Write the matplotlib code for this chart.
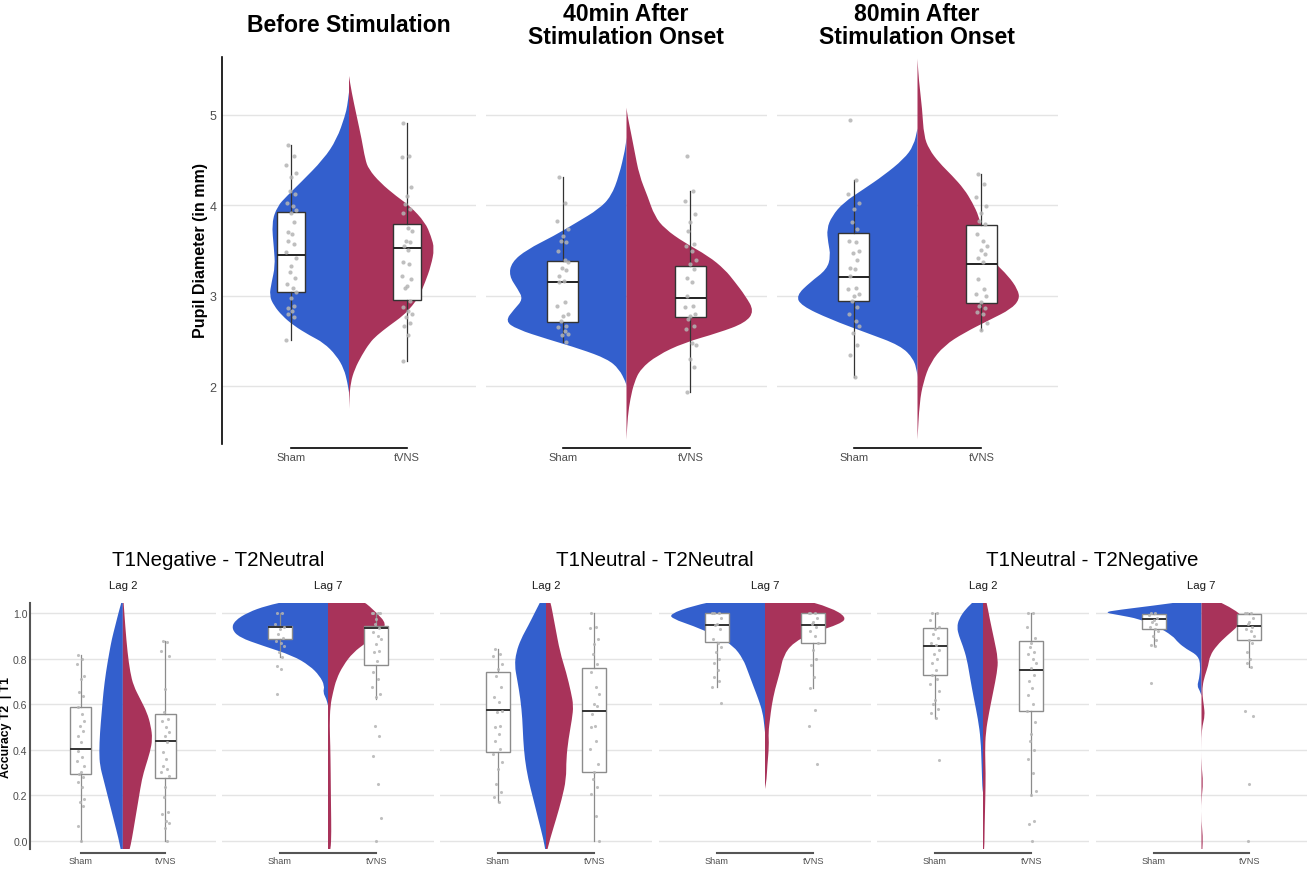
import matplotlib
matplotlib.use("Agg")
import matplotlib.pyplot as plt
from matplotlib import font_manager
from matplotlib.path import Path
from matplotlib.patches import PathPatch

# ---------------------------------------------------------------- data
groups = ["Sham", "tVNS"]

top_titles = ["Before Stimulation", "40min After\nStimulation Onset", "80min After\nStimulation Onset"]
top_ylabel = "Pupil Diameter (in mm)"
top_yticks = [2, 3, 4, 5]

bottom_titles = ["T1Negative - T2Neutral", "T1Neutral - T2Neutral", "T1Neutral - T2Negative"]
lag_labels = ["Lag 2", "Lag 7"]
bottom_ylabel = "Accuracy T2  | T1"
bottom_yticks = [0.0, 0.2, 0.4, 0.6, 0.8, 1.0]

# violin half profiles: (value, half width)
before_sham_violin = [(5.25, 0.0), (5.10, 0.015), (4.99, 0.034), (4.73, 0.106), (4.51, 0.22), (4.25, 0.42),
                      (4.10, 0.54), (3.99, 0.62), (3.81, 0.67), (3.52, 0.65), (3.33, 0.64), (3.15, 0.67),
                      (3.00, 0.69), (2.89, 0.65), (2.78, 0.58), (2.67, 0.48), (2.56, 0.34), (2.48, 0.22),
                      (2.34, 0.11), (2.19, 0.043), (2.04, 0.014), (1.93, 0.0)]
before_tvns_violin = [(5.43, 0.0), (5.25, 0.023), (4.99, 0.066), (4.73, 0.11), (4.51, 0.14), (4.40, 0.17),
                      (4.25, 0.27), (4.10, 0.41), (3.99, 0.53), (3.81, 0.66), (3.66, 0.71), (3.52, 0.74),
                      (3.33, 0.71), (3.15, 0.66), (3.00, 0.61), (2.89, 0.55), (2.78, 0.47), (2.67, 0.35),
                      (2.56, 0.24), (2.48, 0.18), (2.34, 0.11), (2.19, 0.05), (2.04, 0.014), (1.86, 0.003),
                      (1.75, 0.0)]
min40_sham_violin = [(4.75, 0.0), (4.62, 0.01), (4.33, 0.058), (4.10, 0.12), (3.96, 0.215), (3.81, 0.39),
                     (3.66, 0.57), (3.51, 0.78), (3.37, 0.90), (3.22, 0.92), (3.07, 0.85), (2.96, 0.81),
                     (2.85, 0.88), (2.72, 0.95), (2.63, 0.86), (2.52, 0.62), (2.41, 0.36), (2.30, 0.15),
                     (2.19, 0.058), (2.04, 0.005), (2.00, 0.0)]
min40_tvns_violin = [(5.08, 0.0), (4.99, 0.008), (4.81, 0.034), (4.62, 0.06), (4.33, 0.10), (4.10, 0.165),
                     (3.88, 0.22), (3.74, 0.30), (3.59, 0.45), (3.44, 0.64), (3.29, 0.77), (3.15, 0.85),
                     (3.00, 0.93), (2.83, 1.0), (2.70, 0.93), (2.59, 0.72), (2.48, 0.45), (2.34, 0.24),
                     (2.19, 0.11), (2.04, 0.06), (1.86, 0.03), (1.67, 0.01), (1.41, 0.0)]
min80_sham_violin = [(4.85, 0.0), (4.66, 0.029), (4.51, 0.108), (4.33, 0.265), (4.18, 0.42), (4.03, 0.58),
                     (3.88, 0.67), (3.74, 0.71), (3.59, 0.70), (3.44, 0.68), (3.29, 0.71), (3.15, 0.84),
                     (3.00, 0.95), (2.89, 0.91), (2.74, 0.685), (2.59, 0.40), (2.45, 0.134), (2.30, 0.029),
                     (2.15, 0.003), (2.10, 0.0)]
min80_tvns_violin = [(5.62, 0.0), (5.39, 0.01), (5.06, 0.037), (4.77, 0.05), (4.62, 0.09), (4.47, 0.17),
                     (4.33, 0.27), (4.18, 0.365), (4.03, 0.43), (3.88, 0.48), (3.66, 0.52), (3.51, 0.55),
                     (3.37, 0.60), (3.22, 0.71), (3.07, 0.785), (2.96, 0.80), (2.85, 0.73), (2.74, 0.575),
                     (2.59, 0.365), (2.45, 0.21), (2.26, 0.10), (2.04, 0.045), (1.82, 0.016), (1.41, 0.0)]

neg_neu_lag2_sham_violin = [(1.07, 0.0), (1.054, 0.012), (1.003, 0.05), (0.944, 0.09), (0.886, 0.13),
                            (0.827, 0.16), (0.74, 0.20), (0.652, 0.23), (0.564, 0.25), (0.477, 0.27),
                            (0.389, 0.28), (0.33, 0.27), (0.272, 0.23), (0.184, 0.17), (0.096, 0.11),
                            (0.009, 0.05), (-0.04, 0.024), (-0.08, 0.0)]
neg_neu_lag2_tvns_violin = [(1.07, 0.0), (1.054, 0.008), (0.944, 0.028), (0.827, 0.055), (0.74, 0.087),
                            (0.681, 0.126), (0.623, 0.205), (0.564, 0.285), (0.506, 0.33), (0.447, 0.35),
                            (0.389, 0.32), (0.33, 0.27), (0.272, 0.225), (0.184, 0.186), (0.096, 0.146),
                            (0.009, 0.107), (-0.04, 0.079), (-0.10, 0.03), (-0.13, 0.0)]
neg_neu_lag7_sham_violin = [(1.15, 0.0), (1.10, 0.2), (1.054, 0.40), (1.032, 0.64), (1.003, 0.83),
                            (0.966, 0.97), (0.93, 1.0), (0.893, 0.92), (0.857, 0.68), (0.813, 0.365),
                            (0.769, 0.19), (0.725, 0.087), (0.681, 0.035), (0.652, 0.052), (0.623, 0.017),
                            (0.594, 0.0)]
neg_neu_lag7_tvns_violin = [(1.12, 0.0), (1.08, 0.2), (1.054, 0.365), (1.003, 0.50), (0.952, 0.61),
                            (0.915, 0.54), (0.871, 0.40), (0.827, 0.26), (0.769, 0.156), (0.71, 0.087),
                            (0.652, 0.052), (0.594, 0.024), (0.506, 0.017), (0.418, 0.024), (0.301, 0.028),
                            (0.155, 0.031), (0.038, 0.035), (-0.04, 0.028), (-0.08, 0.0)]
neu_neu_lag2_sham_violin = [(1.10, 0.0), (1.061, 0.045), (1.003, 0.115), (0.944, 0.185), (0.886, 0.26),
                            (0.827, 0.31), (0.769, 0.325), (0.71, 0.30), (0.623, 0.265), (0.535, 0.245),
                            (0.447, 0.237), (0.359, 0.22), (0.272, 0.185), (0.184, 0.132), (0.096, 0.08),
                            (0.009, 0.028), (-0.04, 0.007), (-0.05, 0.0)]
neu_neu_lag2_tvns_violin = [(1.10, 0.0), (1.061, 0.042), (0.944, 0.094), (0.827, 0.146), (0.74, 0.21),
                            (0.652, 0.26), (0.594, 0.285), (0.535, 0.27), (0.447, 0.233), (0.359, 0.21),
                            (0.272, 0.21), (0.184, 0.164), (0.096, 0.105), (0.009, 0.042), (-0.04, 0.014),
                            (-0.05, 0.0)]
neu_neu_lag7_sham_violin = [(1.10, 0.0), (1.061, 0.417), (1.032, 0.747), (0.995, 0.99), (0.974, 0.955),
                            (0.944, 0.747), (0.90, 0.503), (0.857, 0.33), (0.798, 0.226), (0.74, 0.174),
                            (0.681, 0.122), (0.623, 0.069), (0.564, 0.024), (0.506, 0.007), (0.477, 0.0)]
neu_neu_lag7_tvns_violin = [(1.10, 0.0), (1.061, 0.365), (1.025, 0.677), (0.981, 0.85), (0.952, 0.78),
                            (0.915, 0.503), (0.871, 0.295), (0.813, 0.19), (0.74, 0.156), (0.667, 0.104),
                            (0.594, 0.069), (0.535, 0.052), (0.477, 0.035), (0.418, 0.042), (0.33, 0.024),
                            (0.272, 0.017), (0.228, 0.0)]
neu_neg_lag2_sham_violin = [(1.10, 0.0), (1.054, 0.087), (1.018, 0.18), (0.974, 0.25), (0.937, 0.27),
                            (0.90, 0.25), (0.857, 0.21), (0.798, 0.167), (0.71, 0.132), (0.623, 0.094),
                            (0.535, 0.052), (0.447, 0.024), (0.33, 0.014), (0.235, 0.007), (0.213, 0.0)]
neu_neg_lag2_tvns_violin = [(1.10, 0.0), (1.054, 0.035), (0.974, 0.07), (0.886, 0.115), (0.798, 0.157),
                            (0.74, 0.146), (0.652, 0.105), (0.564, 0.063), (0.477, 0.028), (0.389, 0.021),
                            (0.301, 0.028), (0.184, 0.024), (0.067, 0.017), (-0.04, 0.014), (-0.06, 0.0)]
neu_neg_lag7_sham_violin = [(1.08, 0.0), (1.054, 0.123), (1.032, 0.51), (1.014, 0.86), (1.003, 1.02),
                            (0.991, 0.86), (0.974, 0.65), (0.944, 0.474), (0.90, 0.30), (0.871, 0.246),
                            (0.842, 0.158), (0.813, 0.035), (0.769, 0.01), (0.71, 0.025), (0.681, 0.046),
                            (0.659, 0.018), (0.637, 0.0)]
neu_neg_lag7_tvns_violin = [(1.10, 0.0), (1.054, 0.158), (1.018, 0.333), (0.981, 0.44), (0.944, 0.386),
                            (0.90, 0.263), (0.857, 0.158), (0.813, 0.088), (0.769, 0.07), (0.725, 0.035),
                            (0.681, 0.01), (0.637, 0.01), (0.594, 0.025), (0.55, 0.035), (0.506, 0.01),
                            (0.462, 0.0), (0.33, 0.0), (0.257, 0.018), (0.184, 0.0), (0.081, 0.0),
                            (0.023, 0.014), (-0.04, 0.01), (-0.06, 0.0)]

# box summaries: [lower whisker, Q1, median, Q3, upper whisker]
before_sham_box = [2.51, 3.04, 3.45, 3.93, 4.67]
before_tvns_box = [2.28, 2.95, 3.53, 3.79, 4.91]
min40_sham_box = [2.49, 2.71, 3.15, 3.38, 4.31]
min40_tvns_box = [1.94, 2.76, 2.97, 3.33, 4.16]
min80_sham_box = [2.10, 2.94, 3.21, 3.69, 4.28]
min80_tvns_box = [2.62, 2.92, 3.35, 3.78, 4.35]
neg_neu_lag2_sham_box = [0.0, 0.294, 0.404, 0.586, 0.816]
neg_neu_lag2_tvns_box = [0.0, 0.275, 0.44, 0.557, 0.878]
neg_neu_lag7_sham_box = [0.806, 0.886, 0.937, 0.944, 1.0]
neg_neu_lag7_tvns_box = [0.623, 0.772, 0.933, 0.944, 1.0]
neu_neu_lag2_sham_box = [0.169, 0.389, 0.574, 0.743, 0.842]
neu_neu_lag2_tvns_box = [0.0, 0.304, 0.569, 0.757, 1.0]
neu_neu_lag7_sham_box = [0.674, 0.871, 0.947, 1.0, 1.0]
neu_neu_lag7_tvns_box = [0.67, 0.868, 0.947, 1.0, 1.0]
neu_neg_lag2_sham_box = [0.538, 0.729, 0.857, 0.934, 1.0]
neu_neg_lag2_tvns_box = [0.2, 0.572, 0.752, 0.879, 1.0]
neu_neg_lag7_sham_box = [0.854, 0.93, 0.974, 0.994, 1.0]
neu_neg_lag7_tvns_box = [0.762, 0.883, 0.944, 0.997, 1.0]

# individual participants
before_sham_pts = [4.67, 4.54, 4.45, 4.36, 4.31, 4.16, 4.12, 4.03, 3.99, 3.95, 3.92, 3.81, 3.71, 3.68, 3.60,
                   3.57, 3.48, 3.42, 3.33, 3.26, 3.20, 3.13, 3.08, 3.04, 2.98, 2.89, 2.86, 2.83, 2.80, 2.76, 2.51]
before_tvns_pts = [4.91, 4.55, 4.53, 4.20, 4.10, 4.01, 3.96, 3.92, 3.75, 3.72, 3.61, 3.59, 3.55, 3.51, 3.37,
                   3.35, 3.22, 3.18, 3.11, 3.09, 2.94, 2.87, 2.83, 2.80, 2.76, 2.70, 2.67, 2.56, 2.28]
min40_sham_pts = [4.31, 4.03, 3.83, 3.74, 3.66, 3.61, 3.59, 3.50, 3.40, 3.37, 3.31, 3.28, 3.22, 3.16, 3.15,
                  2.93, 2.89, 2.80, 2.78, 2.72, 2.67, 2.65, 2.61, 2.58, 2.56, 2.49]
min40_tvns_pts = [4.55, 4.16, 4.05, 3.90, 3.81, 3.72, 3.57, 3.55, 3.50, 3.40, 3.35, 3.29, 3.20, 3.15, 3.00,
                  2.89, 2.87, 2.80, 2.78, 2.74, 2.67, 2.63, 2.48, 2.45, 2.30, 2.21, 1.94]
min80_sham_pts = [4.94, 4.28, 4.13, 4.03, 3.96, 3.81, 3.74, 3.61, 3.59, 3.50, 3.47, 3.40, 3.31, 3.29, 3.22,
                  3.09, 3.07, 3.02, 3.00, 2.94, 2.87, 2.80, 2.72, 2.67, 2.59, 2.45, 2.34, 2.10]
min80_tvns_pts = [4.35, 4.23, 4.09, 3.99, 3.92, 3.83, 3.79, 3.68, 3.60, 3.55, 3.51, 3.46, 3.42, 3.37, 3.19,
                  3.07, 3.02, 3.00, 2.93, 2.89, 2.86, 2.82, 2.80, 2.70, 2.62]

neg_neu_lag2_sham_pts = [0.816, 0.798, 0.776, 0.725, 0.71, 0.652, 0.637, 0.586, 0.557, 0.528, 0.506, 0.484,
                         0.462, 0.433, 0.396, 0.367, 0.352, 0.33, 0.301, 0.294, 0.279, 0.257, 0.235, 0.184,
                         0.17, 0.155, 0.067, 0.0]
neg_neu_lag2_tvns_pts = [0.878, 0.871, 0.834, 0.813, 0.667, 0.564, 0.535, 0.528, 0.499, 0.477, 0.462, 0.433,
                         0.389, 0.359, 0.33, 0.316, 0.301, 0.286, 0.235, 0.191, 0.126, 0.118, 0.089, 0.081,
                         0.059, 0.0]
neg_neu_lag7_sham_pts = [1.0, 1.0, 0.95, 0.937, 0.93, 0.908, 0.889, 0.878, 0.868, 0.856, 0.827, 0.806,
                         0.769, 0.754, 0.645]
neg_neu_lag7_tvns_pts = [1.0, 1.0, 1.0, 1.0, 0.974, 0.952, 0.933, 0.915, 0.901, 0.886, 0.864, 0.835, 0.827,
                         0.791, 0.74, 0.71, 0.674, 0.645, 0.63, 0.506, 0.462, 0.374, 0.249, 0.103, 0.0]
neu_neu_lag2_sham_pts = [0.842, 0.82, 0.813, 0.776, 0.754, 0.725, 0.674, 0.63, 0.608, 0.572, 0.564, 0.506,
                         0.499, 0.47, 0.44, 0.404, 0.382, 0.345, 0.316, 0.25, 0.213, 0.191, 0.169]
neu_neu_lag2_tvns_pts = [1.0, 0.94, 0.933, 0.886, 0.864, 0.82, 0.776, 0.74, 0.674, 0.645, 0.6, 0.594, 0.557,
                         0.506, 0.499, 0.44, 0.404, 0.338, 0.301, 0.272, 0.235, 0.206, 0.111, 0.0]
neu_neu_lag7_sham_pts = [1.0, 1.0, 1.0, 0.98, 0.952, 0.947, 0.93, 0.886, 0.87, 0.85, 0.83, 0.8, 0.78, 0.75,
                         0.72, 0.7, 0.674, 0.605]
neu_neu_lag7_tvns_pts = [1.0, 1.0, 1.0, 0.98, 0.96, 0.952, 0.94, 0.92, 0.9, 0.87, 0.84, 0.8, 0.77, 0.72,
                         0.67, 0.576, 0.506, 0.338]
neu_neg_lag2_sham_pts = [1.0, 1.0, 0.97, 0.94, 0.93, 0.91, 0.89, 0.87, 0.86, 0.84, 0.82, 0.8, 0.78, 0.75,
                         0.73, 0.71, 0.69, 0.66, 0.62, 0.6, 0.58, 0.56, 0.54, 0.357]
neu_neg_lag2_tvns_pts = [1.0, 1.0, 0.94, 0.89, 0.87, 0.85, 0.83, 0.82, 0.8, 0.78, 0.76, 0.73, 0.7, 0.67,
                         0.64, 0.6, 0.57, 0.52, 0.47, 0.44, 0.4, 0.36, 0.3, 0.22, 0.2, 0.09, 0.075, 0.0]
neu_neg_lag7_sham_pts = [1.0, 1.0, 0.99, 0.98, 0.97, 0.96, 0.95, 0.94, 0.93, 0.92, 0.9, 0.88, 0.86, 0.854,
                         0.693]
neu_neg_lag7_tvns_pts = [1.0, 1.0, 1.0, 0.98, 0.96, 0.95, 0.94, 0.93, 0.92, 0.9, 0.88, 0.87, 0.83, 0.8,
                         0.78, 0.762, 0.572, 0.547, 0.249, 0.0]

# ---------------------------------------------------------------- style
BLUE = "#335fcd"
RED = "#a8335a"
GRID = "#e4e4e4"
PT = "#b4b4b4"
TXT = "#4d4d4d"
JITTER = [-0.03, 0.02, -0.045, 0.04, 0.0, -0.015, 0.03, -0.035, 0.015, 0.045, -0.005, 0.025, -0.025, 0.01]

installed = {f.name for f in font_manager.fontManager.ttflist}
WIDE = "Liberation Sans"
if "Liberation Sans Narrow" in installed:
    NARROW, NSCALE = "Liberation Sans Narrow", 1.0
else:
    NARROW, NSCALE = "Liberation Sans", 0.82

plt.rcParams["font.family"] = [WIDE, "DejaVu Sans"]

W, H = 1307, 870
fig = plt.figure(figsize=(W / 100, H / 100), dpi=100)
fig.patch.set_facecolor("white")


def axes_px(x0, x1, y0, y1):
    return fig.add_axes([x0 / W, 1 - y1 / H, (x1 - x0) / W, (y1 - y0) / H])


def stats(b):
    return {"whislo": b[0], "q1": b[1], "med": b[2], "q3": b[3], "whishi": b[4], "fliers": []}


def half_violin(ax, prof, side, color, center=1.5):
    """Smooth outline through the profile (quadratic Bezier between midpoints), closed on the centre line."""
    pts = [(center + side * w, v) for v, w in prof]
    mid = lambda a, b: ((a[0] + b[0]) / 2, (a[1] + b[1]) / 2)
    verts, codes = [pts[0], mid(pts[0], pts[1])], [Path.MOVETO, Path.LINETO]
    for k in range(1, len(pts) - 1):
        verts += [pts[k], mid(pts[k], pts[k + 1])]
        codes += [Path.CURVE3, Path.CURVE3]
    verts += [pts[-1], (center, prof[-1][0]), (center, prof[0][0]), pts[0]]
    codes += [Path.LINETO, Path.LINETO, Path.LINETO, Path.CLOSEPOLY]
    ax.add_patch(PathPatch(Path(verts, codes), facecolor=color, lw=0, zorder=2))


def draw_panel(ax, sham_v, tvns_v, sham_b, tvns_b, sham_p, tvns_p, box_w, box_edge, med_col, pt_size):
    half_violin(ax, sham_v, -1, BLUE)
    half_violin(ax, tvns_v, 1, RED)
    ax.bxp([stats(sham_b), stats(tvns_b)], positions=[1, 2], widths=box_w, patch_artist=True,
           showfliers=False, showcaps=False,
           boxprops=dict(facecolor="white", edgecolor=box_edge, linewidth=1.0),
           whiskerprops=dict(color=box_edge, linewidth=0.9),
           medianprops=dict(color=med_col, linewidth=1.4),
           zorder=3)
    for pos, pts in ((1, sham_p), (2, tvns_p)):
        xs = [pos + JITTER[i % len(JITTER)] for i in range(len(pts))]
        ax.scatter(xs, pts, s=pt_size, color=PT, lw=0, alpha=0.85, zorder=4)
    ax.set_xlim(0.4, 2.6)
    ax.set_xticks([1, 2])
    ax.yaxis.grid(True, color=GRID, lw=1.0)
    ax.set_axisbelow(True)
    for s in ("top", "right"):
        ax.spines[s].set_visible(False)
    ax.spines["bottom"].set_bounds(1, 2)
    ax.spines["bottom"].set_position(("outward", 3))
    ax.set_facecolor("none")


# ---------------------------------------------------------------- top row
top_boxes = [(222, 476), (486, 767), (777, 1058)]
top_centers = [349, 626, 917]
top_data = [
    (before_sham_violin, before_tvns_violin, before_sham_box, before_tvns_box, before_sham_pts, before_tvns_pts),
    (min40_sham_violin, min40_tvns_violin, min40_sham_box, min40_tvns_box, min40_sham_pts, min40_tvns_pts),
    (min80_sham_violin, min80_tvns_violin, min80_sham_box, min80_tvns_box, min80_sham_pts, min80_tvns_pts),
]
for i, ((x0, x1), d) in enumerate(zip(top_boxes, top_data)):
    ax = axes_px(x0, x1, 58, 445)
    draw_panel(ax, *d, box_w=0.24, box_edge="#333333", med_col="#222222", pt_size=9)
    ax.set_ylim(1.36, 5.64)
    ax.set_yticks(top_yticks)
    ax.set_xticklabels(groups)
    ax.tick_params(axis="x", length=0, pad=3, labelsize=8, labelcolor=TXT)
    ax.tick_params(axis="y", length=0, pad=4, labelsize=9, labelcolor=TXT)
    ax.spines["bottom"].set_color("black")
    ax.spines["bottom"].set_linewidth(1.2)
    if i == 0:
        ax.spines["left"].set_color("black")
        ax.spines["left"].set_linewidth(1.2)
    else:
        ax.spines["left"].set_visible(False)
        ax.set_yticklabels([])
    fig.text(top_centers[i] / W, 1 - 26 / H, top_titles[i], ha="center", va="center",
             fontsize=16.6, fontweight="bold", linespacing=0.95)

fig.text(201 / W, 1 - 251 / H, top_ylabel, rotation=90, ha="center", va="center",
         fontsize=11.5, fontweight="bold")

# ---------------------------------------------------------------- bottom row
bottom_boxes = [(29.7, 216), (222, 434), (440, 652), (659, 871), (877, 1089), (1096, 1307)]
bottom_data = [
    (neg_neu_lag2_sham_violin, neg_neu_lag2_tvns_violin, neg_neu_lag2_sham_box, neg_neu_lag2_tvns_box,
     neg_neu_lag2_sham_pts, neg_neu_lag2_tvns_pts),
    (neg_neu_lag7_sham_violin, neg_neu_lag7_tvns_violin, neg_neu_lag7_sham_box, neg_neu_lag7_tvns_box,
     neg_neu_lag7_sham_pts, neg_neu_lag7_tvns_pts),
    (neu_neu_lag2_sham_violin, neu_neu_lag2_tvns_violin, neu_neu_lag2_sham_box, neu_neu_lag2_tvns_box,
     neu_neu_lag2_sham_pts, neu_neu_lag2_tvns_pts),
    (neu_neu_lag7_sham_violin, neu_neu_lag7_tvns_violin, neu_neu_lag7_sham_box, neu_neu_lag7_tvns_box,
     neu_neu_lag7_sham_pts, neu_neu_lag7_tvns_pts),
    (neu_neg_lag2_sham_violin, neu_neg_lag2_tvns_violin, neu_neg_lag2_sham_box, neu_neg_lag2_tvns_box,
     neu_neg_lag2_sham_pts, neu_neg_lag2_tvns_pts),
    (neu_neg_lag7_sham_violin, neu_neg_lag7_tvns_violin, neu_neg_lag7_sham_box, neu_neg_lag7_tvns_box,
     neu_neg_lag7_sham_pts, neu_neg_lag7_tvns_pts),
]
for i, ((x0, x1), d) in enumerate(zip(bottom_boxes, bottom_data)):
    ax = axes_px(x0, x1, 604, 850)
    draw_panel(ax, *d, box_w=0.25, box_edge="#8c8c8c", med_col="#333333", pt_size=5)
    ax.set_ylim(-0.035, 1.044)
    ax.set_yticks(bottom_yticks)
    ax.set_xticklabels(groups, fontfamily=NARROW, fontsize=8 * NSCALE)
    ax.tick_params(axis="x", length=0, pad=2, labelcolor=TXT)
    ax.spines["bottom"].set_color("#555555")
    ax.spines["bottom"].set_linewidth(1.5)
    if i == 0:
        ax.set_yticklabels([f"{t:.1f}" for t in bottom_yticks], fontfamily=NARROW, fontsize=9.2 * NSCALE)
        ax.tick_params(axis="y", length=0, pad=1.5, labelcolor=TXT)
        ax.spines["left"].set_color("#555555")
        ax.spines["left"].set_linewidth(1.5)
    else:
        ax.spines["left"].set_visible(False)
        ax.tick_params(axis="y", length=0)
        ax.set_yticklabels([])
    fig.text((x0 + x1) / 2 / W, 1 - 586 / H, lag_labels[i % 2], ha="center", va="center",
             fontfamily=NARROW, fontsize=10 * NSCALE, color="#1a1a1a")

fig.text(6.5 / W, 1 - 728 / H, bottom_ylabel, rotation=90, ha="center", va="center",
         fontsize=8.8, fontweight="bold")

for title, cx in zip(bottom_titles, [218, 655, 1092]):
    fig.text(cx / W, 1 - 561 / H, title, ha="center", va="center",
             fontfamily=NARROW, fontsize=18 * NSCALE, color="black")

fig.savefig("out.png", dpi=100, facecolor="white")
